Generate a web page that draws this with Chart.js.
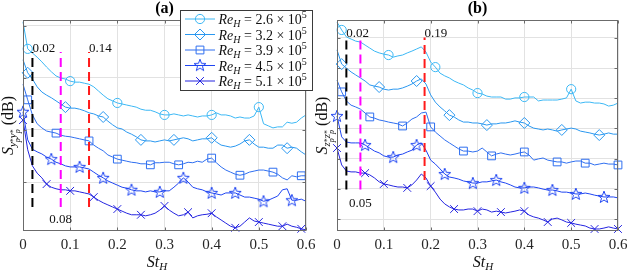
<!DOCTYPE html>
<html>
<head>
<meta charset="utf-8">
<script src="https://cdn.jsdelivr.net/npm/chart.js@4.4.1/dist/chart.umd.min.js"></script>
<style>
  html, body { margin: 0; padding: 0; background: #fff; }
  #wrap { position: relative; width: 628px; height: 271px; overflow: hidden; }
  canvas { position: absolute; top: 0; }
  #chartA { left: 0; }
  #chartB { left: 308px; }
</style>
</head>
<body>
<div id="wrap">
  <canvas id="chartA" width="320" height="271"></canvas>
  <canvas id="chartB" width="320" height="271"></canvas>
</div>
<script>
const FONT = "'Liberation Serif', 'Times New Roman', serif";

// Strouhal number grid
const St = [0,0.01,0.02,0.03,0.04,0.05,0.06,0.07,0.08,0.09,0.1,0.11,0.12,0.13,0.14,0.15,0.16,0.17,0.18,0.19,
  0.2,0.21,0.22,0.23,0.24,0.25,0.26,0.27,0.28,0.29,0.3,0.31,0.32,0.33,0.34,0.35,0.36,0.37,0.38,0.39,
  0.4,0.41,0.42,0.43,0.44,0.45,0.46,0.47,0.48,0.49,0.5,0.51,0.52,0.53,0.54,0.55,0.56,0.57,0.58,0.59,0.6];
const stTicks = [0, 0.1, 0.2, 0.3, 0.4, 0.5, 0.6];
const stTickLabels = ['0', '0.1', '0.2', '0.3', '0.4', '0.5', '0.6'];
const ReH = ['2.6', '3.2', '3.9', '4.5', '5.1'];

// (a) S_y*p y*p, dB (offset per curve as plotted)
const a26 = [30.8,25.6,24.8,24.0,23.1,22.1,21.2,20.4,20.0,19.8,19.4,19.2,19.2,19.0,18.8,18.3,17.5,16.7,16.0,15.6,
  15.2,15.0,14.8,14.6,14.4,14.0,13.8,13.8,13.5,13.1,12.9,12.9,13.1,12.9,12.7,12.9,12.7,12.5,12.7,12.7,
  12.9,13.3,12.9,12.9,12.7,12.3,12.5,12.3,12.3,12.7,14.4,11.2,10.8,10.4,10.6,10.6,11.5,11.3,11.5,12.3,12.9];
const a32 = [23.5,21.0,19.8,18.3,17.3,16.7,16.2,15.6,15.0,14.4,14.2,14.2,14.0,13.7,13.3,13.1,12.7,12.5,11.7,11.0,
  10.4,10.2,9.6,9.2,8.7,8.1,7.9,7.9,7.7,7.9,8.1,7.9,8.1,8.3,8.5,8.3,7.9,8.1,8.3,8.3,
  8.5,7.7,7.1,6.9,6.7,6.9,7.3,7.9,8.1,7.3,6.7,6.7,6.5,6.5,7.1,7.1,6.5,6.7,6.5,5.8,5.2];
const a39 = [18.8,15.8,12.9,11.2,10.4,9.8,9.6,9.4,9.0,8.8,8.7,8.5,8.3,8.1,7.9,7.1,6.5,6.0,5.2,4.8,
  4.4,4.2,4.0,3.8,3.7,3.5,3.5,3.3,3.7,3.7,3.8,3.8,3.5,3.3,3.5,3.8,3.7,4.0,3.8,4.4,
  4.6,3.7,2.9,2.3,1.9,1.5,1.3,1.5,1.9,2.1,2.3,2.3,2.1,1.9,1.5,0.8,0.4,1.2,1.0,1.2,1.2];
const a45 = [13.5,8.1,6.3,5.8,5.4,4.8,4.4,3.8,3.5,3.1,2.9,2.9,2.9,2.7,2.5,1.9,1.3,0.8,0.2,-0.2,
  -0.6,-1.0,-1.2,-1.5,-1.7,-1.7,-1.9,-1.7,-1.9,-1.9,-1.7,-1.7,-1.0,-0.2,0.8,0.0,-1.0,-1.3,-1.5,-1.9,
  -2.1,-2.3,-2.5,-2.1,-2.1,-2.1,-2.5,-2.9,-2.9,-3.1,-3.3,-3.7,-3.5,-3.1,-2.7,-1.5,-1.3,-3.5,-3.5,-3.3,-3.7];
const a51 = [11.9,6.2,3.1,1.7,0.8,-0.4,-1.0,-1.3,-1.5,-1.5,-1.7,-1.7,-1.9,-2.1,-2.3,-2.9,-3.5,-4.0,-4.4,-4.8,
  -5.2,-5.6,-6.0,-6.3,-6.3,-6.3,-6.5,-6.3,-6.0,-5.4,-4.6,-5.4,-6.0,-6.5,-6.3,-5.8,-6.9,-6.5,-6.3,-6.2,
  -6.0,-6.7,-7.3,-7.9,-8.5,-8.8,-8.5,-7.7,-6.9,-7.5,-7.7,-7.9,-8.1,-8.3,-8.5,-8.5,-8.1,-8.5,-8.7,-9.0,-9.2];

// (b) S_z*p z*p, dB
const b26 = [65.2,62.6,60.3,59.6,58.9,58.6,57.6,56.6,55.6,55.0,54.6,54.3,53.6,54.0,54.3,55.0,55.6,56.3,57.0,55.3,
  52.0,50.3,48.3,47.4,46.7,45.7,45.0,44.4,43.4,42.7,41.7,41.4,40.7,40.4,40.4,40.4,39.7,39.7,40.1,40.1,
  40.4,40.4,40.4,39.1,39.4,39.4,39.4,39.4,39.7,40.1,43.0,39.1,38.4,38.7,38.7,38.4,38.4,38.1,37.4,37.7,38.4];
const b32 = [56.0,51.3,50.0,48.7,47.7,46.7,45.7,44.4,44.0,43.7,43.0,42.7,43.0,43.0,43.4,44.0,44.7,45.7,46.4,44.7,
  41.1,38.7,37.1,35.8,34.4,33.8,32.8,32.1,32.1,31.8,31.8,31.5,31.1,31.5,31.5,31.8,31.8,32.1,32.5,32.1,
  31.8,30.8,30.1,29.8,29.5,29.8,29.5,29.1,29.5,29.8,30.1,29.8,29.1,28.8,28.5,28.1,27.8,28.1,28.5,28.1,28.1];
const b39 = [46.0,42.1,39.1,37.7,37.1,36.4,35.1,33.8,33.4,32.8,32.5,32.1,31.8,31.5,30.8,31.8,33.1,33.8,35.1,35.4,
  30.5,28.8,27.5,26.2,25.2,24.2,23.2,22.5,22.5,22.2,22.5,23.5,22.2,20.9,21.5,21.9,21.5,21.2,21.5,21.9,
  22.2,21.2,19.5,19.9,20.2,19.5,19.2,18.9,18.9,18.5,18.9,19.2,19.2,18.5,18.5,17.9,18.2,18.5,18.2,18.2,17.9];
const b45 = [34.1,27.2,25.5,25.2,25.2,25.2,24.5,23.5,22.5,21.9,20.9,20.5,20.5,21.2,21.5,22.2,22.8,24.5,25.2,22.8,
  19.5,18.2,16.6,14.9,13.9,13.6,13.2,12.6,12.3,11.9,11.9,12.3,12.3,12.6,12.9,12.3,11.9,11.3,10.6,10.3,
  10.3,10.6,10.6,10.3,9.9,9.6,9.6,9.3,8.9,8.9,8.6,8.3,8.3,8.6,8.3,7.9,7.6,7.3,7.3,7.3,7.0];
const b51 = [23.5,17.9,15.9,15.6,15.6,15.2,15.2,14.6,13.6,12.3,11.6,11.3,10.9,10.6,10.6,10.3,11.3,12.9,14.9,13.6,
  10.9,8.9,6.6,5.0,4.0,3.3,3.0,3.0,3.3,3.3,2.6,3.3,3.0,2.3,2.6,2.3,2.0,2.3,2.6,3.0,
  2.6,1.3,0.7,0.3,-0.3,-1.0,0.0,0.3,-0.3,-1.0,-1.3,-1.7,-2.0,-2.3,-3.0,-3.3,-3.3,-3.0,-2.6,-3.0,-3.3];

const gridA = [0, 10, 20, 30];
const gridB = [0, 10, 20, 30, 40, 50, 60];

// which samples carry a marker
const marksA = [
  [1,10,20,30,40,50],
  [1,9,17,25,32,40,48,56],
  [1,7,14,20,27,33,40,46,53,59],
  [0,6,12,17,23,29,34,40,45,51,57],
  [0,5,10,15,20,25,30,35,40,45,50,55,59]
];
const marksB = [
  [1,11,21,30,40,50],
  [1,9,17,24,32,40,48,56],
  [1,7,14,20,27,33,40,47,53,60],
  [0,6,12,17,23,29,34,40,46,51,57],
  [0,6,10,15,20,25,30,35,40,45,50,55,60]
];

// dashed marker lines: St, dB from, dB to
const linesA = [[0.02, -4.8, 25], [0.08, -4.8, 25], [0.14, -4.8, 25]];
const linesB = [[0.02, 9.8, 60.1], [0.05, 9.8, 60.1], [0.187, 12.9, 60.1]];
const lineColors = ['#000000', '#ff00ff', '#ff1a1a'];

// notes next to the lines: text, St, dB, align
const notesA = [['0.02', 0.02, 25.6, 'left'], ['0.14', 0.14, 25.6, 'left'], ['0.08', 0.08, -7.3, 'center']];
const notesB = [['0.02', 0.02, 61.3, 'left'], ['0.19', 0.187, 61.3, 'left'], ['0.05', 0.05, 5.2, 'center']];

const colors = ['#3cb8f5', '#2a98f0', '#2f6ff0', '#1f45f2', '#2424e0'];
const markers = ['circle', 'rectRot', 'rect', 'star', 'crossRot'];
const radii = [4.6, 5.5, 5.5, 1, 5.5];

const it = n => `italic ${n}px ${FONT}`;
const rm = n => `${n}px ${FONT}`;

function makeStar(color) {
  const c = document.createElement('canvas');
  c.width = 14; c.height = 14;
  const g = c.getContext('2d');
  g.strokeStyle = color; g.lineWidth = 1;
  g.beginPath();
  for (let k = 0; k < 10; k++) {
    const r = k % 2 ? 2.6 : 6.3;
    const ang = -Math.PI / 2 + k * Math.PI / 5;
    const px = 7 + r * Math.cos(ang), py = 7.4 + r * Math.sin(ang);
    if (k) g.lineTo(px, py); else g.moveTo(px, py);
  }
  g.closePath(); g.stroke();
  return c;
}
const starImg = colors.map(makeStar);

function drawRich(g, segs, x, y, align) {
  let w = 0;
  segs.forEach(s => { g.font = s.f; if (!s.back) w += g.measureText(s.t).width; });
  let cx = align === 'center' ? x - w / 2 : x;
  g.textAlign = 'left'; g.textBaseline = 'alphabetic';
  segs.forEach(s => {
    g.font = s.f;
    g.fillText(s.t, cx, y + (s.dy || 0));
    if (!s.back) cx += g.measureText(s.t).width;
  });
}

function yLabelSegs(v) {
  return [
    {t: 'S', f: it(16)},
    {t: v, f: it(11), dy: 3},
    {t: '*', f: rm(8), dy: 3, back: true},
    {t: 'p', f: it(8), dy: 7},
    {t: v, f: it(11), dy: 3},
    {t: '*', f: rm(8), dy: 3, back: true},
    {t: 'p', f: it(8), dy: 7},
    {t: ' (dB)', f: rm(16)}
  ];
}

function drawMarker(g, k, x, y) {
  g.strokeStyle = colors[k]; g.lineWidth = 1;
  const m = markers[k];
  if (m === 'star') { g.drawImage(starImg[k], x - 7, y - 7.4); return; }
  g.beginPath();
  if (m === 'circle') g.arc(x, y, 4.6, 0, 2 * Math.PI);
  else if (m === 'rectRot') { g.moveTo(x, y - 5.5); g.lineTo(x + 5.5, y); g.lineTo(x, y + 5.5); g.lineTo(x - 5.5, y); g.closePath(); }
  else if (m === 'rect') g.rect(x - 3.9, y - 3.9, 7.8, 7.8);
  else { g.moveTo(x - 3.9, y - 3.9); g.lineTo(x + 3.9, y + 3.9); g.moveTo(x + 3.9, y - 3.9); g.lineTo(x - 3.9, y + 3.9); }
  g.stroke();
}

function drawLegend(g) {
  g.fillStyle = '#fff'; g.fillRect(180, 10, 133, 81);
  g.strokeStyle = '#3a3a3a'; g.lineWidth = 1; g.strokeRect(180.5, 10.5, 132, 80);
  ReH.forEach((r, k) => {
    const y = 19 + k * 15.5;
    g.strokeStyle = colors[k]; g.lineWidth = 1;
    g.beginPath(); g.moveTo(185, y); g.lineTo(215, y); g.stroke();
    drawMarker(g, k, 200, y);
    g.fillStyle = '#111';
    drawRich(g, [
      {t: 'Re', f: it(14)}, {t: 'H', f: it(10), dy: 3},
      {t: ' = ' + r + ' \u00d7 10', f: rm(14)}, {t: '5', f: rm(10), dy: -6}
    ], 218.5, y + 5, 'left');
  });
}

function makeDeco(p) {
  return {
    id: 'deco',
    afterDatasetsDraw(chart) {
      const g = chart.ctx, a = chart.chartArea, xs = chart.scales.x, ys = chart.scales.y;
      g.save();
      // axes box with inward ticks
      g.strokeStyle = '#6b6b6b'; g.lineWidth = 1;
      const L = a.left + 0.5, R = a.right - 0.5, T = a.top + 0.5, B = a.bottom - 0.5;
      g.strokeRect(L, T, R - L, B - T);
      g.beginPath();
      stTicks.forEach(v => {
        const px = Math.round(xs.getPixelForValue(v)) + 0.5;
        g.moveTo(px, B); g.lineTo(px, B - 3); g.moveTo(px, T); g.lineTo(px, T + 3);
      });
      p.grid.forEach(v => {
        const py = Math.round(ys.getPixelForValue(v)) + 0.5;
        g.moveTo(L, py); g.lineTo(L + 3, py); g.moveTo(R, py); g.lineTo(R - 3, py);
      });
      g.stroke();

      // notes at the dashed lines
      g.fillStyle = '#111'; g.font = rm(13); g.textBaseline = 'middle';
      p.notes.forEach(n => {
        g.textAlign = n[3];
        g.fillText(n[0], xs.getPixelForValue(n[1]), ys.getPixelForValue(n[2]));
      });

      // title and axis labels
      g.fillStyle = '#000';
      g.textAlign = 'center'; g.textBaseline = 'alphabetic'; g.font = `bold 16px ${FONT}`;
      g.fillText(p.title, (a.left + a.right) / 2, 13);
      g.fillStyle = '#111';
      drawRich(g, [{t: 'St', f: it(16)}, {t: 'H', f: it(11), dy: 3}], (a.left + a.right) / 2 + p.xShift, 267, 'center');
      g.save();
      g.translate(a.left - 10, (a.top + a.bottom) / 2);
      g.rotate(-Math.PI / 2);
      drawRich(g, yLabelSegs(p.sub), 0, 0, 'center');
      g.restore();

      if (p.legend) drawLegend(g);
      g.restore();
    }
  };
}

function spectra(series, marks) {
  return series.map((vals, k) => ({
    label: ReH[k],
    data: St.map((s, i) => ({x: s, y: vals[i]})),
    borderColor: colors[k],
    borderWidth: 1,
    pointStyle: markers[k] === 'star' ? starImg[k] : markers[k],
    pointRadius: c => marks[k].includes(c.dataIndex) ? radii[k] : 0,
    pointBorderColor: colors[k],
    pointBackgroundColor: 'rgba(255,255,255,0)',
    pointBorderWidth: 1,
    pointHoverRadius: 0,
    tension: 0,
    clip: false,
    order: 2
  }));
}

function dashes(lines) {
  return lines.map((l, k) => ({
    data: [{x: l[0], y: l[1]}, {x: l[0], y: l[2]}],
    borderColor: lineColors[k],
    borderWidth: 2,
    borderDash: [9, 5],
    pointRadius: 0,
    clip: false,
    order: 1
  }));
}

function panel(id, series, marks, lines, grid, yMin, yMax, pad, deco) {
  new Chart(document.getElementById(id), {
    type: 'line',
    data: { datasets: [...dashes(lines), ...spectra(series, marks)] },
    options: {
      responsive: false,
      animation: false,
      events: [],
      layout: { padding: { left: pad[0], right: pad[1], top: 20, bottom: 0 } },
      scales: {
        x: {
          type: 'linear', min: 0, max: 0.6,
          afterBuildTicks: s => { s.ticks = stTicks.map(v => ({value: v})); },
          afterFit: s => { s.height = 40; s.paddingLeft = 0; s.paddingRight = 0; },
          ticks: {
            callback: (v, i) => stTickLabels[i],
            font: { family: FONT, size: 15 }, color: '#262626',
            padding: 5, maxRotation: 0, autoSkip: false
          },
          grid: { color: '#e2e2e2', drawTicks: false },
          border: { display: false }
        },
        y: {
          type: 'linear', min: yMin, max: yMax,
          afterBuildTicks: s => { s.ticks = grid.map(v => ({value: v})); },
          afterFit: s => { s.width = 0; s.paddingTop = 0; s.paddingBottom = 0; },
          ticks: { display: false },
          grid: { color: '#e2e2e2', drawTicks: false },
          border: { display: false }
        }
      },
      plugins: { legend: { display: false }, tooltip: { enabled: false } }
    },
    plugins: [deco]
  });
}

panel('chartA', [a26, a32, a39, a45, a51], marksA, linesA, gridA, -9.42, 31.15, [23, 14],
  makeDeco({title: '(a)', sub: 'y', grid: gridA, notes: notesA, legend: true, xShift: -7.5}));
panel('chartB', [b26, b32, b39, b45, b51], marksB, linesB, gridB, -3.97, 65.9, [29, 10],
  makeDeco({title: '(b)', sub: 'z', grid: gridB, notes: notesB, legend: false, xShift: 5.5}));
</script>
</body>
</html>
